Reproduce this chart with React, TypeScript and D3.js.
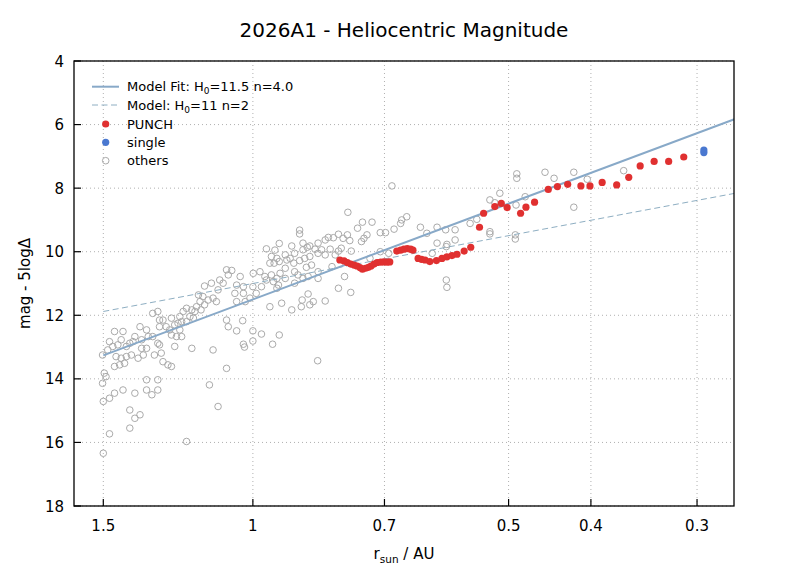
import React from 'react';
import * as d3 from 'd3';

// PUNCH observations: [r_sun (AU), mag - 5logΔ]
const punch: [number, number][] = [
  [0.790, 10.26], [0.781, 10.29], [0.774, 10.34], [0.767, 10.39], [0.760, 10.42],
  [0.754, 10.45], [0.748, 10.50], [0.743, 10.55], [0.737, 10.52], [0.731, 10.49],
  [0.726, 10.45], [0.720, 10.39], [0.714, 10.34], [0.707, 10.33], [0.701, 10.32],
  [0.695, 10.33], [0.690, 10.32], [0.677, 9.98], [0.670, 9.95], [0.664, 9.92],
  [0.658, 9.90], [0.652, 9.92], [0.648, 9.95], [0.639, 10.21], [0.633, 10.24],
  [0.627, 10.26], [0.619, 10.31], [0.608, 10.28], [0.599, 10.21], [0.591, 10.16],
  [0.583, 10.12], [0.575, 10.08], [0.564, 9.98], [0.554, 9.86], [0.541, 9.23],
  [0.535, 8.79], [0.519, 8.58], [0.510, 8.48], [0.502, 8.61], [0.484, 8.79],
  [0.477, 8.60], [0.466, 8.44], [0.449, 8.04], [0.438, 7.95], [0.426, 7.88],
  [0.411, 7.93], [0.401, 7.93], [0.388, 7.82], [0.373, 7.90], [0.361, 7.66],
  [0.350, 7.30], [0.337, 7.16], [0.324, 7.16], [0.311, 7.02],
];

const single: [number, number][] = [
  [0.2945, 6.80], [0.2945, 6.88],
];

const others: [number, number][] = [
  [0.964, 9.91], [0.942, 9.95], [0.931, 9.74], [0.951, 10.15], [0.937, 10.21], [0.955, 10.36],
  [0.944, 10.36], [0.931, 10.31], [0.999, 10.68], [0.981, 10.63], [0.968, 10.78], [0.951, 10.73],
  [0.937, 10.84], [0.929, 10.68], [0.964, 10.89], [0.946, 10.94], [0.933, 11.05], [1.0, 11.10],
  [0.991, 11.31], [0.977, 11.10],
  [1.074, 10.57], [1.059, 10.59], [1.069, 10.73], [1.035, 10.78], [1.045, 11.05], [1.026, 11.10],
  [1.050, 11.31], [1.026, 11.31], [1.045, 11.57], [1.021, 11.57], [1.008, 11.46],
  [1.094, 10.89], [1.084, 10.99], [1.119, 10.99], [1.099, 11.20], [1.140, 11.08],
  [1.159, 11.36], [1.145, 11.41], [1.129, 11.52], [1.114, 11.46], [1.104, 11.57], [1.154, 11.57],
  [1.140, 11.67], [1.151, 11.83], [1.165, 11.73], [1.170, 11.88], [1.180, 11.83], [1.197, 11.78],
  [1.208, 11.88], [1.186, 12.04], [1.175, 12.09],
  [1.219, 12.04], [1.213, 12.20], [1.197, 12.20], [1.225, 12.25], [1.247, 12.09], [1.236, 12.30],
  [1.265, 12.36], [1.253, 12.46], [1.276, 12.15], [1.288, 12.15], [1.288, 12.36], [1.294, 11.88],
  [1.312, 11.94],
  [1.219, 12.46], [1.247, 12.62], [1.230, 12.67], [1.213, 12.67],
  [1.334, 12.46], [1.328, 12.67], [1.358, 12.36], [1.352, 12.77], [1.377, 12.67], [1.384, 12.83],
  [1.396, 12.88], [1.409, 12.98], [1.429, 12.77], [1.442, 12.93], [1.462, 12.98], [1.455, 12.51],
  [1.422, 12.51], [1.475, 12.83], [1.482, 13.09], [1.503, 13.25],
  [1.352, 13.04], [1.334, 13.04], [1.346, 13.25], [1.365, 13.35], [1.390, 13.25], [1.409, 13.30],
  [1.429, 13.35], [1.449, 13.30], [1.435, 13.56], [1.455, 13.61], [1.416, 13.51],
  [1.312, 12.67], [1.294, 12.88], [1.288, 12.93], [1.306, 13.25], [1.282, 13.19], [1.276, 13.46],
  [1.259, 13.56], [1.247, 13.61],
  [1.236, 12.98], [1.180, 13.04], [1.114, 13.09],
  [1.074, 12.15], [1.069, 12.36], [1.028, 12.17], [1.045, 12.49], [1.0, 12.49], [1.0, 12.81],
  [0.977, 12.59], [0.948, 12.91], [0.931, 12.62], [1.026, 12.91], [1.023, 13.00], [1.074, 13.67],
  [1.496, 13.82], [1.489, 13.93], [1.503, 14.14], [1.500, 14.71], [1.475, 14.61], [1.455, 14.45],
  [1.422, 14.35], [1.377, 14.45], [1.334, 14.03], [1.294, 14.03], [1.334, 14.35], [1.315, 14.50],
  [1.294, 14.35], [1.125, 14.19], [1.099, 14.87], [1.396, 14.98], [1.358, 15.13], [1.377, 15.24],
  [1.396, 15.55], [1.475, 15.73], [1.197, 15.97], [1.500, 16.34],
  [0.773, 8.76], [0.743, 9.07], [0.724, 9.07], [0.753, 9.26], [0.668, 9.00], [0.659, 8.90],
  [0.670, 9.11], [0.635, 9.23], [0.607, 9.23], [0.624, 9.42], [0.881, 9.32], [0.881, 9.44],
  [0.900, 9.82], [0.873, 9.73], [0.857, 9.82], [0.838, 9.73], [0.822, 9.63], [0.815, 9.55],
  [0.804, 9.56], [0.793, 9.45], [0.783, 9.58], [0.769, 9.65], [0.774, 9.47], [0.708, 9.40],
  [0.698, 9.40], [0.682, 9.29], [0.740, 9.58], [0.734, 9.47], [0.745, 9.68],
  [0.916, 10.10], [0.904, 10.21], [0.893, 10.05], [0.873, 9.94], [0.863, 9.86], [0.845, 9.92],
  [0.830, 9.94], [0.811, 9.92], [0.793, 9.98], [0.787, 9.89], [0.766, 9.98],
  [0.912, 10.26], [0.895, 10.36], [0.881, 10.28], [0.869, 10.21], [0.857, 10.15], [0.838, 10.05],
  [0.822, 10.10], [0.800, 10.10],
  [0.916, 10.52], [0.893, 10.63], [0.885, 10.73], [0.865, 10.49], [0.853, 10.42], [0.838, 10.63],
  [0.807, 10.47],
  [0.937, 11.15], [0.916, 10.84], [0.893, 10.99], [0.873, 10.84], [0.861, 10.78], [0.838, 10.84],
  [0.793, 11.15], [0.780, 10.78], [0.767, 11.28],
  [0.708, 10.00], [0.692, 10.05], [0.728, 10.21], [0.607, 9.73], [0.591, 9.77], [0.615, 10.05],
  [0.592, 10.89], [0.591, 11.12],
  [0.955, 11.73], [0.925, 11.62], [0.900, 11.83], [0.877, 11.73], [0.875, 11.52], [0.861, 11.33],
  [0.849, 11.57], [0.822, 11.55], [0.857, 11.67], [0.839, 13.43], [0.686, 7.93],
  [0.489, 7.55], [0.489, 7.69], [0.453, 7.50], [0.442, 7.69], [0.419, 7.50], [0.404, 7.72],
  [0.419, 8.60], [0.512, 8.16], [0.526, 8.37], [0.519, 8.46], [0.478, 8.27], [0.490, 8.53],
  [0.555, 9.11], [0.545, 8.98], [0.526, 9.37], [0.526, 9.44], [0.491, 9.47], [0.491, 9.60],
  [0.593, 9.31], [0.578, 9.31], [0.592, 9.84], [0.578, 9.63], [0.366, 7.45],
];

const xTicks = [1.5, 1, 0.7, 0.5, 0.4, 0.3];
const yTicks = [4, 6, 8, 10, 12, 14, 16, 18];
const fitH = 11.5;
const fitN = 4.0;
const modelH = 11;
const modelN = 2;
const modelRange = [1.5, 0.25];

const FONT = '"DejaVu Sans", Verdana, sans-serif';

export default function App() {
  const W = 795;
  const H = 585;
  const L = 74, R = 734, T = 61, B = 506;
  const x = d3.scaleLog().domain([1.624, 0.2714]).range([L, R]);
  const y = d3.scaleLinear().domain([4, 18]).range([T, B]);
  const magOf = (h: number, n: number, r: number) => h + 2.5 * n * Math.log10(r);
  const fitLine = d3.line<number>().x((r) => x(r)).y((r) => y(magOf(fitH, fitN, r)))(modelRange) || '';
  const modelLine = d3.line<number>().x((r) => x(r)).y((r) => y(magOf(modelH, modelN, r)))(modelRange) || '';

  const fitColor = '#88a9c8';
  const modelColor = '#8eaec2';
  const red = '#e03030';
  const blue = '#4a78d0';
  const gray = '#aaaaaa';

  const legendRows = [86.7, 105, 124, 142.3, 160.7];
  const lx0 = 92, lx1 = 119, ltx = 127;

  return (
    <svg width={W} height={H} style={{ position: 'absolute', left: 0, top: 0, background: '#fff' }} fontFamily={FONT}>
      <rect x={0} y={0} width={W} height={H} fill="#fff" />
      <defs>
        <clipPath id="plotclip">
          <rect x={L} y={T} width={R - L} height={B - T} />
        </clipPath>
      </defs>
      {/* grid */}
      <g stroke="#b0b0b0" strokeWidth={1} strokeDasharray="1,3">
        {xTicks.map((t) => (
          <line key={'gx' + t} x1={x(t)} x2={x(t)} y1={T} y2={B} />
        ))}
        {yTicks.map((t) => (
          <line key={'gy' + t} x1={L} x2={R} y1={y(t)} y2={y(t)} />
        ))}
      </g>
      <g clipPath="url(#plotclip)">
        {others.map((d, i) => (
          <circle key={'o' + i} cx={x(d[0])} cy={y(d[1])} r={3.3} fill="none" stroke={gray} strokeWidth={1} />
        ))}
        <path d={modelLine} fill="none" stroke={modelColor} strokeWidth={1} strokeDasharray="6,3.5" />
        <path d={fitLine} fill="none" stroke={fitColor} strokeWidth={2} />
        {punch.map((d, i) => (
          <circle key={'p' + i} cx={x(d[0])} cy={y(d[1])} r={3.6} fill={red} />
        ))}
        {single.map((d, i) => (
          <circle key={'s' + i} cx={x(d[0])} cy={y(d[1])} r={3.6} fill={blue} />
        ))}
      </g>
      {/* frame */}
      <rect x={L} y={T} width={R - L} height={B - T} fill="none" stroke="#000" strokeWidth={1.3} />
      {/* ticks */}
      <g stroke="#000" strokeWidth={1.2}>
        {xTicks.map((t) => (
          <line key={'tx' + t} x1={x(t)} x2={x(t)} y1={B} y2={B - 7} />
        ))}
        {yTicks.map((t) => (
          <line key={'ty' + t} x1={L} x2={L + 7} y1={y(t)} y2={y(t)} />
        ))}
      </g>
      <g fontSize={15} fill="#000">
        {xTicks.map((t) => (
          <text key={'lx' + t} x={x(t)} y={531} textAnchor="middle">
            {String(t)}
          </text>
        ))}
        {yTicks.map((t) => (
          <text key={'ly' + t} x={64} y={y(t) + 5.5} textAnchor="end">
            {String(t)}
          </text>
        ))}
      </g>
      {/* title */}
      <text x={(L + R) / 2} y={37} textAnchor="middle" fontSize={20} fill="#000">
        2026A1 - Heliocentric Magnitude
      </text>
      {/* axis labels */}
      <text x={(L + R) / 2} y={559} textAnchor="middle" fontSize={15} fill="#000">
        r<tspan fontSize={10.5} dy={4}>sun</tspan>
        <tspan dy={-4}> / AU</tspan>
      </text>
      <text
        transform={`translate(30,${(T + B) / 2}) rotate(-90)`}
        textAnchor="middle"
        fontSize={15}
        fill="#000"
      >
        mag - 5logΔ
      </text>
      {/* legend */}
      <g fontSize={13} fill="#000">
        <line x1={lx0} x2={lx1} y1={legendRows[0]} y2={legendRows[0]} stroke={fitColor} strokeWidth={2} />
        <text x={ltx} y={legendRows[0] + 4.7}>
          Model Fit: H<tspan fontSize={9} dy={3}>0</tspan>
          <tspan dy={-3}>=11.5 n=4.0</tspan>
        </text>
        <line x1={lx0} x2={lx1} y1={legendRows[1]} y2={legendRows[1]} stroke={modelColor} strokeWidth={1} strokeDasharray="6,3.5" />
        <text x={ltx} y={legendRows[1] + 4.7}>
          Model: H<tspan fontSize={9} dy={3}>0</tspan>
          <tspan dy={-3}>=11 n=2</tspan>
        </text>
        <circle cx={105.7} cy={legendRows[2]} r={3.6} fill={red} />
        <text x={ltx} y={legendRows[2] + 4.7}>PUNCH</text>
        <circle cx={105.7} cy={legendRows[3]} r={3.6} fill={blue} />
        <text x={ltx} y={legendRows[3] + 4.7}>single</text>
        <circle cx={105.7} cy={legendRows[4]} r={3.3} fill="none" stroke={gray} strokeWidth={1} />
        <text x={ltx} y={legendRows[4] + 4.7}>others</text>
      </g>
    </svg>
  );
}
